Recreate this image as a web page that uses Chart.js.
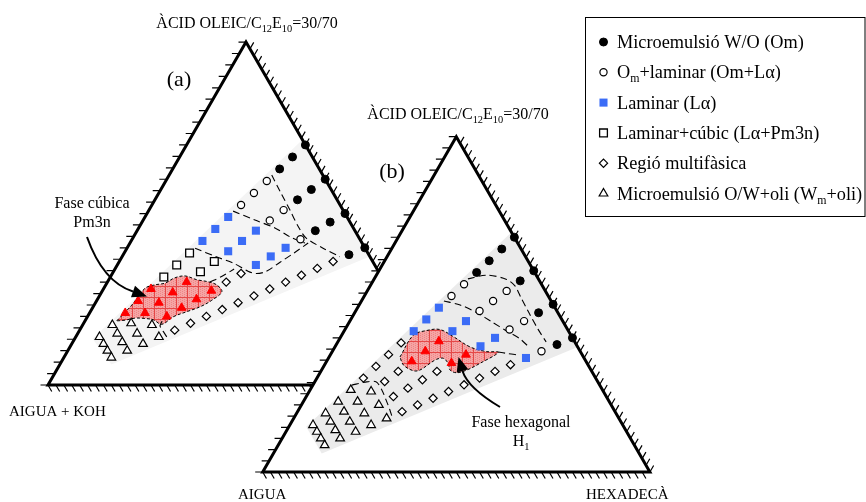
<!DOCTYPE html>
<html>
<head>
<meta charset="utf-8">
<script src="https://cdn.jsdelivr.net/npm/chart.js@4/dist/chart.umd.min.js"></script>
<style>
  html, body { margin: 0; padding: 0; background: #fff; }
  #wrap { width: 866px; height: 502px; }
</style>
</head>
<body>
<div id="wrap"><canvas id="phase" width="866" height="502"></canvas></div>
<script>
// Compositions are [water %, oil %]; the rest is oleic acid/C12E10 (30/70).

// ---- diagram (a): AIGUA + KOH
const omA     = [[0, 30], [5, 28.5], [10, 27], [0, 40], [5, 38], [10, 36], [0, 50], [5, 47.5], [10, 45], [0, 60], [5, 57]];
const omLamA  = [[15, 25.5], [20, 24], [25, 22.5], [15, 34], [20, 32], [15, 42.5]];
const lamA    = [[30, 21], [35, 19.5], [40, 18], [25, 30], [30, 28], [35, 26], [20, 40], [25, 37.5], [30, 35]];
const lamCubA = [[45, 16.5], [50, 15], [55, 13.5], [40, 24], [45, 22]];
const cubA    = [[60, 12], [65, 10.5], [70, 9], [50, 20], [55, 18], [60, 16], [65, 14], [45, 27.5], [50, 25], [55, 22.5], [60, 20]];
const multiA  = [[35, 32.5], [40, 30], [10, 54], [15, 51], [20, 48], [25, 45], [30, 42], [35, 39], [40, 36], [45, 33], [50, 30], [55, 27], [60, 24]];
const wmOilA  = [[75, 7.5], [80, 6], [70, 12], [75, 10], [80, 8], [65, 17.5], [70, 15], [75, 12.5], [80, 10], [65, 21], [70, 18], [75, 15], [80, 12]];

const greyA    = [[0, 28.5], [0, 62.5], [81, 13], [82, 4.5]];
const cubZoneA = [[73.3, 8], [67.2, 9.5], [61.4, 10.4], [58.4, 12.4], [55.6, 14.7], [52.5, 16.3], [49.5, 18.7], [47.1, 22.2],
                  [44.5, 25.4], [42.8, 28], [42.5, 30.3], [46.3, 29], [50.2, 27], [54.8, 24], [58.4, 21.7], [62.4, 19.9],
                  [63.9, 17.1], [65.8, 14.8], [68.3, 12.2], [71.1, 10]];
const bordersA = [
  [[12.9, 25.9], [13.2, 30.9], [13.4, 35.6], [13.7, 40], [13.4, 43.7], [10.6, 49.5], [7.6, 55]],
  [[27.9, 21.4], [23.7, 28.2], [19.8, 34.4], [17.3, 39.5], [14.4, 44.2]],
  [[42.9, 17.2], [38.7, 24], [35.5, 28.9], [32.9, 33.9], [31.2, 36.3], [28.4, 38.5], [23.5, 40.7], [18.6, 42.9], [13.6, 45]],
  [[44.1, 25.9], [40.2, 28.1], [36.1, 30.1]],
  [[61.9, 19.5], [63.1, 19.7], [63.1, 21.2], [63, 23]]
];

// ---- diagram (b): AIGUA / HEXADECÀ
const omB     = [[0, 30], [5, 28.5], [10, 27], [15, 25.5], [0, 40], [5, 38], [0, 50], [5, 47.5], [0, 60], [5, 57]];
const omLamB  = [[20, 24], [25, 22.5], [10, 36], [15, 34], [20, 32], [10, 45], [15, 42.5], [10, 54]];
const lamB    = [[30, 21], [35, 19.5], [40, 18], [25, 30], [30, 28], [20, 40], [25, 37.5], [15, 51]];
const hexB    = [[35, 26], [40, 24], [45, 22], [30, 35], [35, 32.5]];
const multiB  = [[45, 16.5], [50, 15], [55, 13.5], [60, 12], [50, 20], [55, 18], [40, 30], [45, 27.5], [50, 25], [55, 22.5],
                 [20, 48], [25, 45], [30, 42], [35, 39], [40, 36], [45, 33], [50, 30], [55, 27]];
const wmOilB  = [[65, 10.5], [70, 9], [75, 7.5], [80, 6], [60, 16], [65, 14], [70, 12], [75, 10], [80, 8], [60, 20], [65, 17.5],
                 [70, 15], [75, 12.5], [80, 10], [60, 24], [65, 21], [70, 18], [75, 15], [80, 12]];

const greyB    = [[0, 28.5], [0, 62.7], [82, 12.5], [82, 4.5]];
const hexZoneB = [[47.4, 18.3], [40.7, 18.5], [36.5, 21.3], [33, 24.5], [30.6, 29], [27.8, 34.9], [24.2, 39.9], [21.3, 43],
                  [27.7, 39.9], [32.1, 37.5], [35.1, 35.3], [36.4, 33.2], [35.9, 31.7], [36.4, 29.7], [38.3, 28.1],
                  [40.6, 27], [44.2, 25.4], [46, 23.8], [47.7, 20.4]];
const bordersB = [
  [[18.2, 24.2], [12.7, 28.6], [8.4, 34.1], [7.1, 37.4], [7.3, 40.8], [7.5, 45.1], [7.6, 49.8], [7.4, 53.8]],
  [[27.7, 21.3], [24.1, 26.1], [20.9, 31.6], [18.4, 36.9], [15.9, 42.1], [13.7, 46.6], [12.5, 50.5]],
  [[21.3, 42.9], [19, 45.7], [16.6, 48.5]],
  [[64, 10.1], [60.2, 13], [57.3, 15.8], [57, 18.6], [57.4, 21.1], [57.9, 23.6], [58.3, 25]]
];

// legend labels, _{..} marks a subscript
const phaseLabels = [
  'Microemulsió W/O (Om)',
  'O_{m}+laminar (Om+Lα)',
  'Laminar (Lα)',
  'Laminar+cúbic (Lα+Pm3n)',
  'Regió multifàsica',
  'Microemulsió O/W+oli (W_{m}+oli)'
];

// ---- layout (page units, mapped through the x/y scales)
const W = 866, H = 502;
const TRI_A = { x0: 48, y0: 385, side: 396 };
const TRI_B = { x0: 262.7, y0: 472, side: 387.2 };
const LEFT_DIV = 30, EDGE_DIV = 50, TICK = 7.5;
const SERIF = '"Liberation Serif", "Times New Roman", serif';

const MARKS = {
  om:     { style: 'circle',   r: 4,   fill: '#000',    line: '#000',    bw: 1 },
  omLam:  { style: 'circle',   r: 3.6, fill: '#fff',    line: '#000',    bw: 1.2 },
  lam:    { style: 'rect',     r: 5.7, fill: '#3b6cf6', line: '#3b6cf6', bw: 0 },
  lamCub: { style: 'rect',     r: 5.5, fill: '#fff',    line: '#000',    bw: 1.3 },
  multi:  { style: 'rectRot',  r: 4.1, fill: '#fff',    line: '#000',    bw: 1.2 },
  wmOil:  { style: 'triangle', r: 5,   fill: '#fff',    line: '#000',    bw: 1.2 },
  cub:    { style: 'triangle', r: 5,   fill: '#ff0000', line: '#ff0000', bw: 1 }
};

const NOTES = [
  { text: 'ÀCID OLEIC/C_{12}E_{10}=30/70', x: 247, y: 28, size: 16, align: 'center' },
  { text: 'ÀCID OLEIC/C_{12}E_{10}=30/70', x: 458, y: 119, size: 16, align: 'center' },
  { text: '(a)', x: 179, y: 86, size: 22, align: 'center' },
  { text: '(b)', x: 392, y: 178, size: 22, align: 'center' },
  { text: 'Fase cúbica', x: 92, y: 208, size: 16, align: 'center' },
  { text: 'Pm3n', x: 92, y: 227, size: 16, align: 'center' },
  { text: 'Fase hexagonal', x: 521, y: 427, size: 16, align: 'center' },
  { text: 'H_{1}', x: 521, y: 446, size: 16, align: 'center' },
  { text: 'AIGUA + KOH', x: 9, y: 416, size: 15, align: 'left' },
  { text: 'AIGUA', x: 238, y: 499, size: 15, align: 'left' },
  { text: 'HEXADECÀ', x: 586, y: 499, size: 15, align: 'left' }
];

const ARROWS = [
  { from: [87, 237], ctrl: [103, 282], to: [133, 291.5], tip: [147, 296.5] },
  { from: [500, 407], ctrl: [468, 388], to: [462.5, 371], tip: [458.5, 357] }
];

const LEGEND = { left: 585.5, top: 17.5, right: 865, bottom: 216.5, markX: 603.5, textX: 617, firstRow: 42, rowStep: 30.3, size: 18.3 };

// ternary composition -> page units
function tern(tri, w, o) {
  const a = 100 - w - o;
  return {
    x: tri.x0 + tri.side * (o + a / 2) / 100,
    y: tri.y0 - tri.side * Math.sqrt(3) / 2 * a / 100
  };
}
const toXY = (tri, list) => list.map(([w, o]) => tern(tri, w, o));
const closed = list => list.concat([list[0]]);

function outline(tri) {
  return [tern(tri, 100, 0), tern(tri, 0, 0), tern(tri, 0, 100), tern(tri, 100, 0), tern(tri, 0, 0)];
}

// tick marks: left side horizontal, right side parallel to the left side, base parallel to the right side
function tickList(tri) {
  const out = [];
  const c = 0.5, s = Math.sqrt(3) / 2;
  const add = (p, dx, dy) => out.push([p, { x: p.x + dx, y: p.y + dy }]);
  for (let k = 0; k <= LEFT_DIV; k++) add(tern(tri, 100 - k * 100 / LEFT_DIV, 0), -TICK, 0);
  for (let k = 1; k <= EDGE_DIV; k++) add(tern(tri, 0, k * 100 / EDGE_DIV), c * TICK, -s * TICK);
  for (let k = 0; k < EDGE_DIV; k++) add(tern(tri, 100 - k * 100 / EDGE_DIV, k * 100 / EDGE_DIV), c * TICK, s * TICK);
  return out;
}

function hatch() {
  const t = document.createElement('canvas');
  t.width = t.height = 11;
  const g = t.getContext('2d');
  g.fillStyle = '#f5a5a5';
  g.fillRect(0, 0, 11, 11);
  g.fillStyle = '#ee8585';
  for (let i = 0; i < 11; i += 2) for (let j = (i / 2) % 2; j < 11; j += 2) g.fillRect(i, j, 1, 1);
  g.fillStyle = '#e44848';
  g.fillRect(0, 0, 11, 1);
  g.fillRect(0, 0, 1, 11);
  return g.createPattern(t, 'repeat');
}
const redFill = hatch();

function markSet(tri, list, mark, legendRow) {
  return {
    label: legendRow ? phaseLabels[legendRow - 1] : '',
    legendRow,
    mark,
    data: toXY(tri, list),
    showLine: false,
    pointStyle: mark.style,
    pointRadius: mark.r,
    pointBorderWidth: mark.bw,
    pointBackgroundColor: mark.fill,
    pointBorderColor: mark.line
  };
}

function pathSet(data, opts) {
  return Object.assign({
    data, showLine: true, pointRadius: 0, fill: false,
    borderColor: '#000', borderWidth: 1.2, backgroundColor: 'transparent'
  }, opts);
}

const dash = { borderDash: [7, 4], tension: 0.3, borderWidth: 1.1 };
const zone = { fill: 'shape', backgroundColor: redFill, borderDash: [3, 2], borderWidth: 1, tension: 0.35 };

// listed bottom to top
const layers = [
  pathSet(toXY(TRI_A, closed(greyA)), { fill: 'shape', backgroundColor: '#f4f4f4', borderWidth: 0, borderColor: 'transparent' }),
  pathSet(toXY(TRI_A, closed(cubZoneA)), zone),
  ...bordersA.map(b => pathSet(toXY(TRI_A, b), dash)),
  pathSet(outline(TRI_A), { borderWidth: 3, frameOf: TRI_A }),
  markSet(TRI_A, omA, MARKS.om, 1),
  markSet(TRI_A, omLamA, MARKS.omLam, 2),
  markSet(TRI_A, lamA, MARKS.lam, 3),
  markSet(TRI_A, lamCubA, MARKS.lamCub, 4),
  markSet(TRI_A, multiA, MARKS.multi, 5),
  markSet(TRI_A, wmOilA, MARKS.wmOil, 6),
  markSet(TRI_A, cubA, MARKS.cub, 0),

  pathSet(outline(TRI_B), { fill: 'shape', backgroundColor: '#fff', borderWidth: 0, borderColor: 'transparent' }),
  pathSet(toXY(TRI_B, closed(greyB)), { fill: 'shape', backgroundColor: '#ebebeb', borderWidth: 0, borderColor: 'transparent' }),
  pathSet(toXY(TRI_B, closed(hexZoneB)), zone),
  ...bordersB.map(b => pathSet(toXY(TRI_B, b), dash)),
  pathSet(outline(TRI_B), { borderWidth: 3, frameOf: TRI_B }),
  markSet(TRI_B, omB, MARKS.om, 0),
  markSet(TRI_B, omLamB, MARKS.omLam, 0),
  markSet(TRI_B, lamB, MARKS.lam, 0),
  markSet(TRI_B, multiB, MARKS.multi, 0),
  markSet(TRI_B, wmOilB, MARKS.wmOil, 0),
  markSet(TRI_B, hexB, MARKS.cub, 0)
];
layers.forEach((d, i) => { d.order = layers.length - i; });

function richParts(str) {
  const parts = [];
  const re = /_\{([^}]*)\}/g;
  let last = 0, m;
  while ((m = re.exec(str))) {
    if (m.index > last) parts.push({ t: str.slice(last, m.index), sub: false });
    parts.push({ t: m[1], sub: true });
    last = re.lastIndex;
  }
  if (last < str.length) parts.push({ t: str.slice(last), sub: false });
  return parts;
}

function drawRich(ctx, str, px, py, size, align) {
  const parts = richParts(str);
  let total = 0;
  parts.forEach(p => {
    ctx.font = `${p.sub ? size * 0.65 : size}px ${SERIF}`;
    p.w = ctx.measureText(p.t).width;
    total += p.w;
  });
  let cx = align === 'center' ? px - total / 2 : px;
  ctx.textAlign = 'left';
  ctx.textBaseline = 'alphabetic';
  ctx.fillStyle = '#000';
  parts.forEach(p => {
    ctx.font = `${p.sub ? size * 0.65 : size}px ${SERIF}`;
    ctx.fillText(p.t, cx, p.sub ? py + size * 0.22 : py);
    cx += p.w;
  });
}

// page units -> canvas pixels through the chart scales
const px = (chart, x, y) => [chart.scales.x.getPixelForValue(x), chart.scales.y.getPixelForValue(y)];

// ticks go right after their triangle frame, so diagram (b) still covers those of (a)
const frameTicks = {
  id: 'frameTicks',
  afterDatasetDraw(chart, args) {
    const tri = chart.data.datasets[args.index].frameOf;
    if (!tri) return;
    const ctx = chart.ctx;
    ctx.save();
    ctx.strokeStyle = '#000';
    ctx.lineWidth = 1.2;
    ctx.beginPath();
    tickList(tri).forEach(([p, q]) => {
      const a = px(chart, p.x, p.y), b = px(chart, q.x, q.y);
      ctx.moveTo(a[0], a[1]);
      ctx.lineTo(b[0], b[1]);
    });
    ctx.stroke();
    ctx.restore();
  }
};

const notesPlugin = {
  id: 'notes',
  afterDraw(chart) {
    const ctx = chart.ctx;
    ctx.save();
    NOTES.forEach(n => {
      const [x, y] = px(chart, n.x, n.y);
      drawRich(ctx, n.text, x, y, n.size, n.align);
    });

    ctx.strokeStyle = '#000';
    ctx.fillStyle = '#000';
    ARROWS.forEach(a => {
      const f = px(chart, ...a.from), c = px(chart, ...a.ctrl), t = px(chart, ...a.to), tip = px(chart, ...a.tip);
      ctx.lineWidth = 2;
      ctx.beginPath();
      ctx.moveTo(f[0], f[1]);
      ctx.quadraticCurveTo(c[0], c[1], t[0], t[1]);
      ctx.stroke();
      const dx = tip[0] - t[0], dy = tip[1] - t[1];
      const len = Math.hypot(dx, dy), hw = 6;
      const nx = -dy / len * hw, ny = dx / len * hw;
      ctx.beginPath();
      ctx.moveTo(tip[0], tip[1]);
      ctx.lineTo(t[0] + nx, t[1] + ny);
      ctx.lineTo(t[0] - nx, t[1] - ny);
      ctx.closePath();
      ctx.fill();
    });

    // legend box
    const [l, tp] = px(chart, LEGEND.left, LEGEND.top);
    const [r, b] = px(chart, LEGEND.right, LEGEND.bottom);
    ctx.lineWidth = 1;
    ctx.strokeRect(l, tp, r - l, b - tp);
    chart.data.datasets
      .filter(d => d.legendRow)
      .sort((p, q) => p.legendRow - q.legendRow)
      .forEach(d => {
        const rowY = LEGEND.firstRow + (d.legendRow - 1) * LEGEND.rowStep;
        const [mx, my] = px(chart, LEGEND.markX, rowY);
        const m = d.mark;
        ctx.fillStyle = m.fill;
        ctx.strokeStyle = m.line;
        ctx.lineWidth = m.bw;
        Chart.helpers.drawPoint(ctx, { pointStyle: m.style, radius: m.r, rotation: 0, borderWidth: m.bw }, mx, my);
        const [tx, ty] = px(chart, LEGEND.textX, rowY + 6);
        drawRich(ctx, d.label, tx, ty, LEGEND.size, 'left');
      });
    ctx.restore();
  }
};

new Chart(document.getElementById('phase'), {
  type: 'scatter',
  data: { datasets: layers },
  options: {
    responsive: false,
    animation: false,
    events: [],
    layout: { padding: 0, autoPadding: false },
    plugins: { legend: { display: false }, tooltip: { enabled: false } },
    scales: {
      x: { type: 'linear', min: 0, max: W, display: false },
      y: { type: 'linear', min: 0, max: H, reverse: true, display: false }
    }
  },
  plugins: [frameTicks, notesPlugin]
});
</script>
</body>
</html>
